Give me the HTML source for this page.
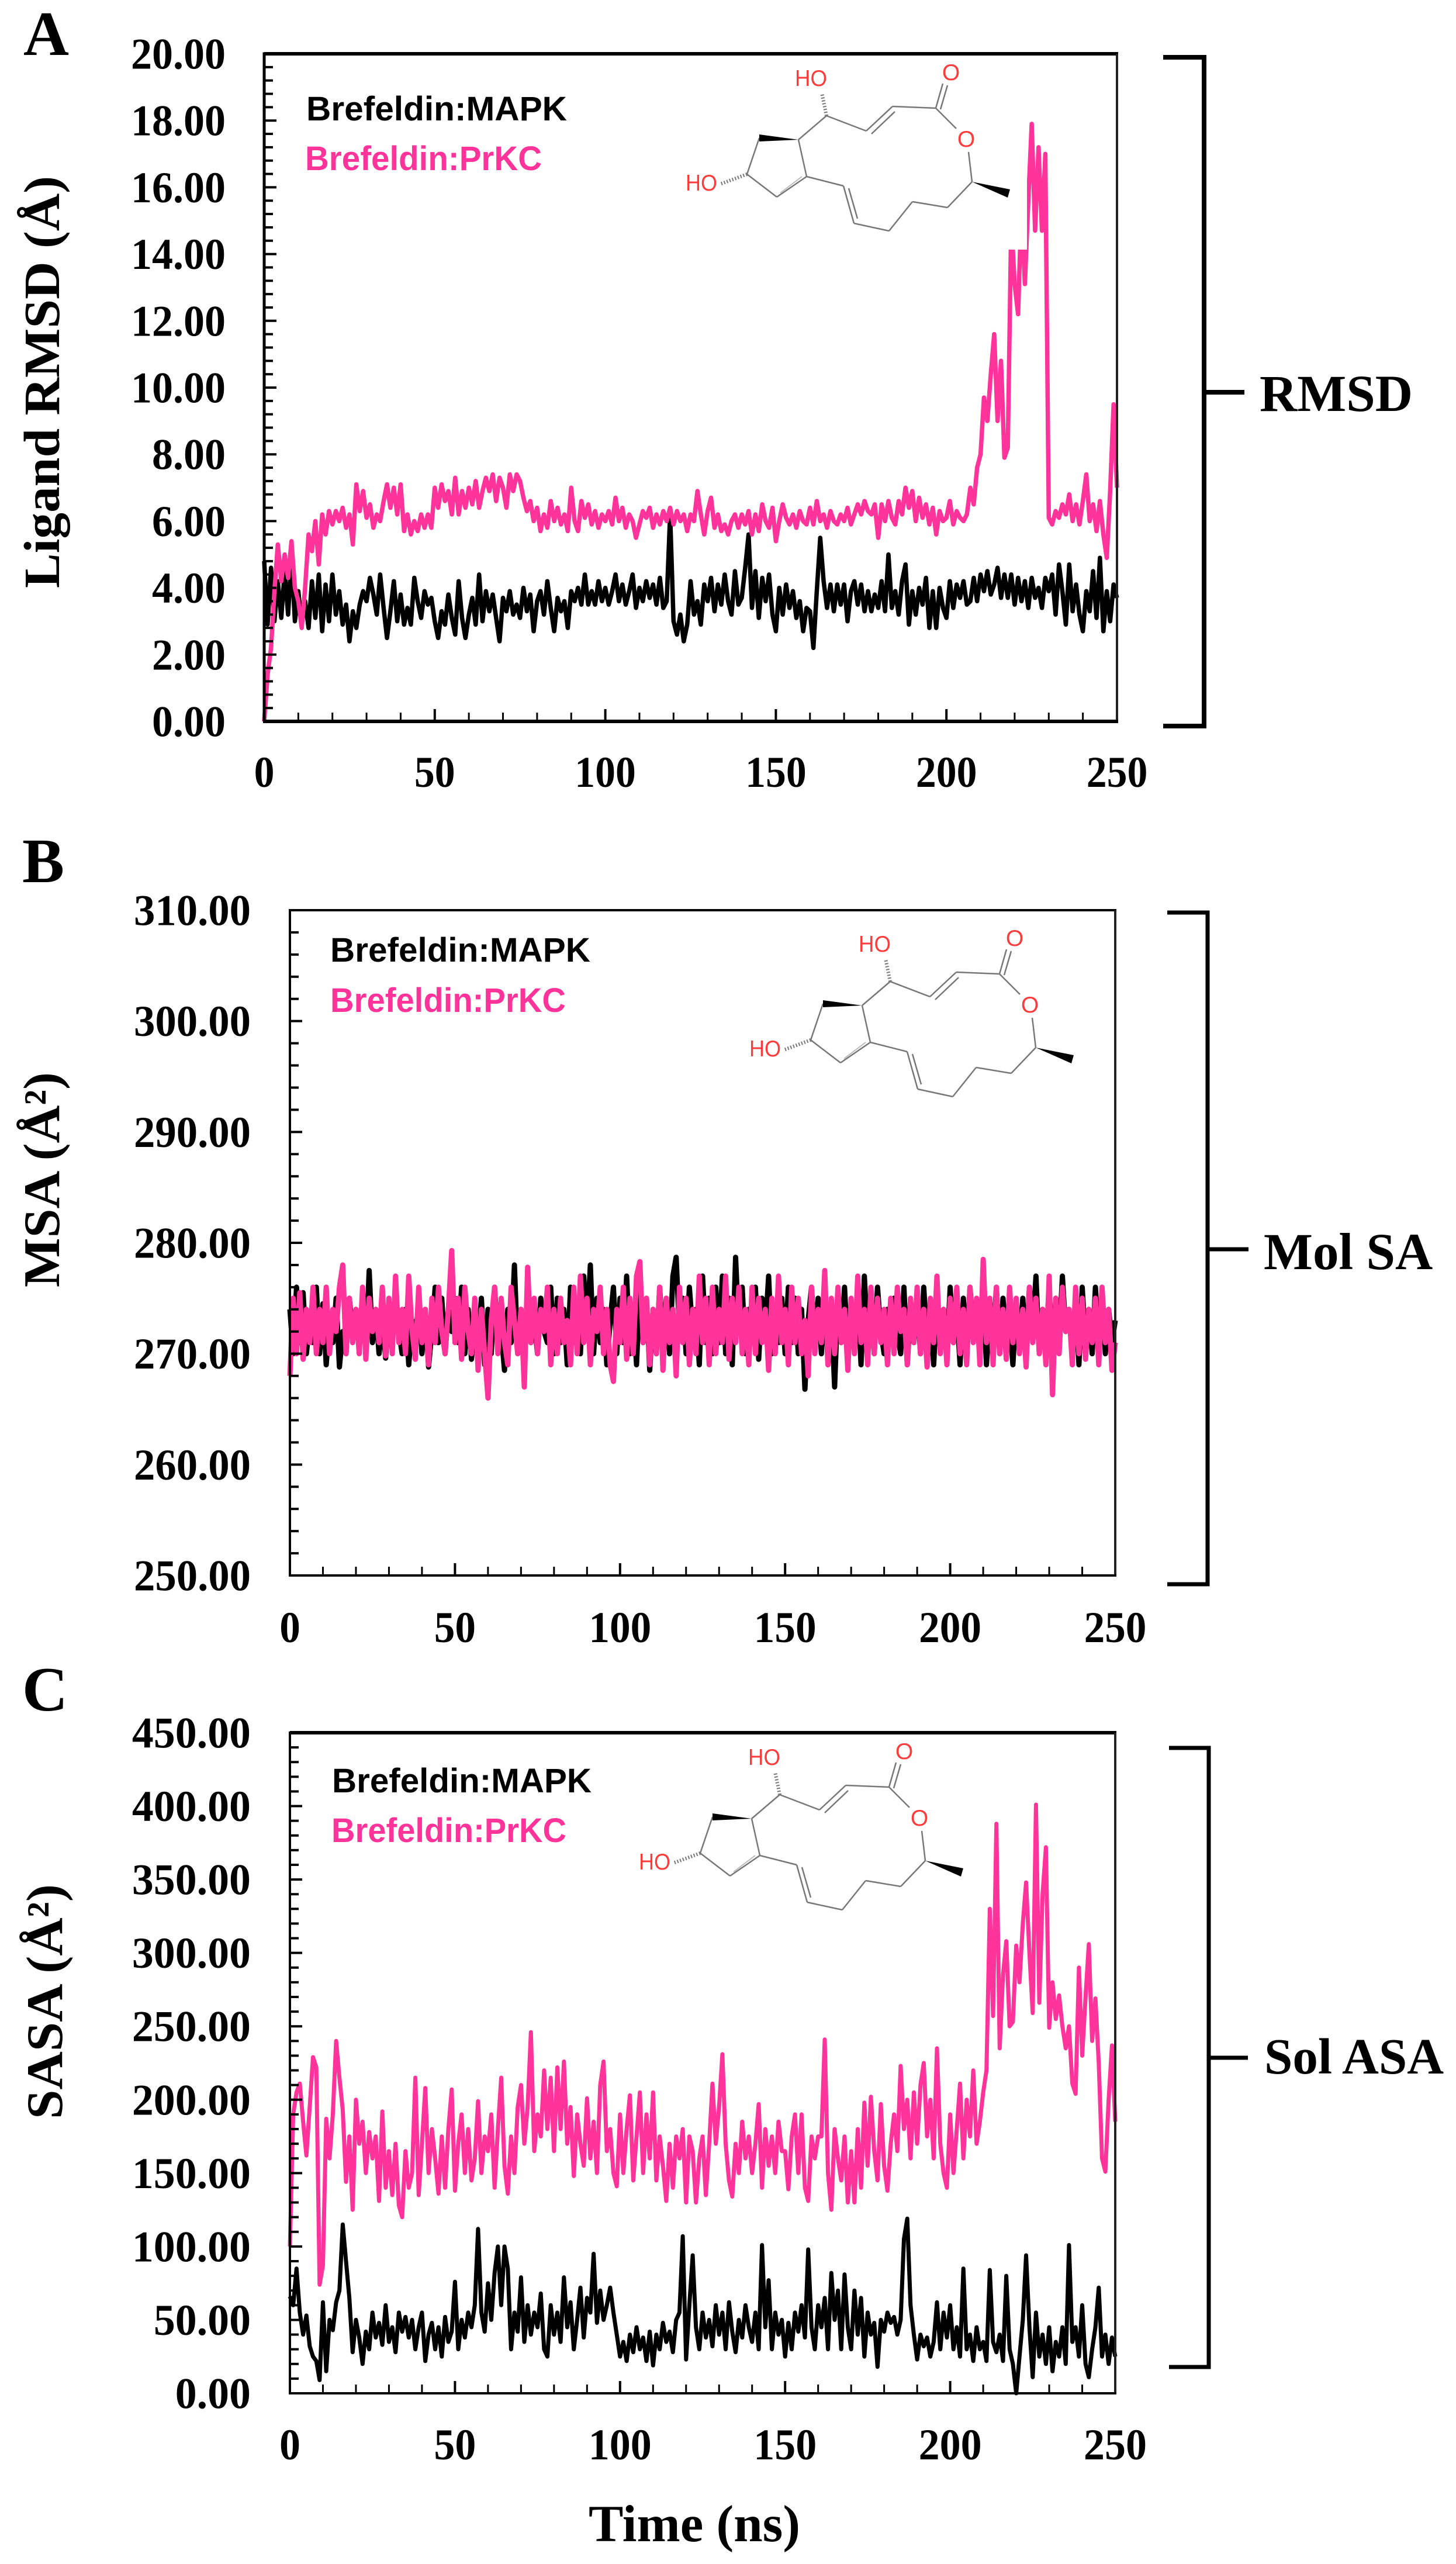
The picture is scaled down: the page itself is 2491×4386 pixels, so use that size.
<!DOCTYPE html>
<html lang="en">
<head>
<meta charset="utf-8">
<title>Brefeldin MD trajectory analysis</title>
<style>
html,body{margin:0;padding:0;background:#fff;}
svg{display:block;}
.serif{font-family:"Liberation Serif",serif;font-weight:700;fill:#000;}
.sans{font-family:"Liberation Sans",sans-serif;font-weight:700;}
</style>
</head>
<body>
<svg id="figure" xmlns="http://www.w3.org/2000/svg" width="2491" height="4386" viewBox="0 0 2491 4386">
  <rect x="0" y="0" width="2491" height="4386" fill="#fff"/>
  <g id="panels"></g>

  <text class="serif" x="40" y="94" font-size="108">A</text>
  <text class="serif" x="38" y="1509" font-size="108">B</text>
  <text class="serif" x="38" y="2926" font-size="108">C</text>

  <text class="serif" transform="translate(101,1006) rotate(-90)" font-size="87" textLength="705" lengthAdjust="spacingAndGlyphs">Ligand RMSD (Å)</text>
  <text class="serif" transform="translate(101,2202) rotate(-90)" font-size="88" textLength="368" lengthAdjust="spacingAndGlyphs">MSA (Å²)</text>
  <text class="serif" transform="translate(106,3625) rotate(-90)" font-size="88" textLength="402" lengthAdjust="spacingAndGlyphs">SASA (Å²)</text>
  <text class="serif" x="1007" y="4347" font-size="88.6" textLength="362" lengthAdjust="spacingAndGlyphs">Time (ns)</text>

  <text class="sans" fill="#000" x="524" y="206" font-size="58" textLength="446" lengthAdjust="spacingAndGlyphs">Brefeldin:MAPK</text>
  <text class="sans" fill="#ff3399" x="522" y="291" font-size="58" textLength="405" lengthAdjust="spacingAndGlyphs">Brefeldin:PrKC</text>
  <text class="sans" fill="#000" x="565" y="1645" font-size="58" textLength="445" lengthAdjust="spacingAndGlyphs">Brefeldin:MAPK</text>
  <text class="sans" fill="#ff3399" x="565" y="1731" font-size="58" textLength="403" lengthAdjust="spacingAndGlyphs">Brefeldin:PrKC</text>
  <text class="sans" fill="#000" x="568" y="3066" font-size="58" textLength="444" lengthAdjust="spacingAndGlyphs">Brefeldin:MAPK</text>
  <text class="sans" fill="#ff3399" x="567" y="3151" font-size="58" textLength="402" lengthAdjust="spacingAndGlyphs">Brefeldin:PrKC</text>

  <path d="M1990 98H2060V1242H1990M2060 671H2129" fill="none" stroke="#000" stroke-width="8"/>
  <path d="M1997 1561H2066V2710H1997M2066 2137H2136" fill="none" stroke="#000" stroke-width="7"/>
  <path d="M2000 2990H2068V4049H2000M2068 3520H2135" fill="none" stroke="#000" stroke-width="7"/>
  <text class="serif" x="2155" y="703" font-size="89">RMSD</text>
  <text class="serif" x="2162" y="2171" font-size="89">Mol SA</text>
  <text class="serif" x="2163" y="3547" font-size="87">Sol ASA</text>
</svg>

<script>
const timeStep = 1;
const timeTickLabels = ['0','50','100','150','200','250'];
const rmsdTickLabels = ['0.00','2.00','4.00','6.00','8.00','10.00','12.00','14.00','16.00','18.00','20.00'];
const msaTickLabels = ['250.00','260.00','270.00','280.00','290.00','300.00','310.00'];
const sasaTickLabels = ['0.00','50.00','100.00','150.00','200.00','250.00','300.00','350.00','400.00','450.00'];

const rmsdMapk = [
4.8,2.9,4.6,3.0,4.2,3.1,4.5,3.2,4.9,3.0,
3.9,2.9,3.6,2.8,4.2,3.1,4.4,2.7,4.1,3.0,
4.4,3.2,3.9,2.9,3.5,2.4,3.3,2.8,3.5,3.9,
3.6,4.3,3.8,3.2,4.4,3.4,2.5,3.3,4.2,3.0,
3.8,2.9,3.4,2.9,4.3,3.6,3.1,3.9,3.5,3.7,
3.0,2.5,3.3,2.9,3.8,3.1,2.6,4.2,3.1,2.5,
3.2,3.7,2.9,4.4,3.0,3.9,3.3,3.8,3.1,2.4,
3.7,3.3,3.9,3.2,3.5,3.1,4.0,3.3,3.8,2.7,
3.6,3.9,3.2,4.2,3.4,2.7,3.7,3.3,3.6,2.8,
3.9,3.6,4.0,3.5,4.4,3.5,3.9,3.5,4.2,3.6,
4.0,3.5,3.9,4.4,3.6,4.1,3.5,3.9,4.4,3.4,
4.0,3.6,4.2,3.7,4.1,3.5,4.3,3.4,3.6,6.2,
3.0,2.6,3.2,2.4,2.9,4.2,3.2,3.6,2.9,4.1,
3.6,4.3,3.3,4.1,3.5,4.4,3.6,3.2,4.5,3.5,
3.7,4.6,5.6,3.4,4.5,3.1,4.3,3.6,4.4,3.2,
2.7,4.0,3.2,4.1,3.4,3.9,3.1,3.6,2.7,3.4,
3.3,2.2,3.9,5.5,4.2,3.4,4.1,3.3,4.1,3.5,
4.1,3.0,3.9,4.2,3.5,4.1,3.3,3.9,3.3,3.8,
3.4,4.2,3.3,5.0,3.4,3.9,3.2,4.2,4.7,2.9,
3.9,3.2,4.0,3.5,4.3,2.8,3.9,2.8,4.0,3.4,
3.1,4.2,3.4,4.1,3.7,4.2,3.5,3.6,4.3,3.6,
4.4,3.9,4.5,3.8,4.1,4.6,3.7,4.4,3.7,4.4,
3.5,4.3,3.6,4.2,3.4,4.3,3.7,4.0,3.4,4.3,
3.9,4.4,3.2,4.7,3.9,2.9,4.7,3.3,4.1,3.2,
2.7,3.9,3.3,4.5,3.1,4.9,2.7,3.9,3.0,4.1,
3.7];

const rmsdPrkc = [
0,1.4,2.2,3.9,5.3,4.2,5.0,4.3,5.4,4.0,
3.6,2.8,4.0,5.6,5.1,6.0,4.7,6.2,5.6,6.3,
5.9,6.3,6.0,6.4,5.8,6.2,5.3,7.1,6.3,6.9,
6.1,6.5,5.8,6.2,6.0,6.6,7.1,6.4,7.0,6.2,
7.1,5.7,6.2,5.6,6.0,5.7,6.2,5.8,6.2,5.8,
7.0,6.4,7.1,6.6,6.9,6.2,7.3,6.2,6.9,6.4,
7.0,6.5,7.2,6.4,6.9,7.3,6.9,7.4,6.6,7.3,
7.0,6.4,7.4,6.9,7.4,7.2,6.7,6.3,6.6,6.0,
6.4,5.7,6.2,5.8,6.6,6.0,6.4,5.9,6.2,5.7,
7.0,6.0,5.7,6.6,6.1,6.5,5.9,6.3,5.8,6.2,
6.0,6.3,5.9,6.7,6.0,6.4,5.8,6.2,6.0,5.5,
5.9,6.3,6.1,6.4,5.8,6.2,5.9,6.3,6.0,6.4,
5.9,6.3,6.0,6.2,5.7,6.2,6.0,6.9,6.2,5.6,
6.3,6.7,5.8,6.2,5.7,5.9,5.6,6.0,6.2,5.8,
6.2,5.9,6.3,5.6,6.2,5.7,6.5,6.0,5.8,6.4,
5.4,6.0,6.5,6.1,5.9,6.2,5.8,6.3,6.0,5.9,
6.4,5.9,6.6,6.0,6.2,5.8,6.3,6.0,5.9,6.2,
6.0,6.4,5.9,6.2,6.5,6.2,6.6,6.3,6.2,6.5,
5.5,6.5,6.0,6.6,6.1,5.9,6.6,6.2,7.0,6.4,
6.9,6.0,6.7,6.1,6.5,5.9,6.4,5.6,6.3,6.0,
6.1,6.6,5.9,6.3,6.1,6.0,6.2,7.0,6.5,7.6,
8.0,9.7,9.0,10.4,11.6,9.0,10.8,7.9,8.2,15.0,
13.1,12.2,15.5,13.1,15.6,17.9,14.7,17.2,14.7,17.0,
6.1,5.9,6.3,6.1,6.5,6.2,6.8,6.0,6.5,5.9,
6.6,7.4,6.0,6.5,5.7,6.6,5.6,4.9,6.9,9.5,
7.0];

const msaMapk = [
274,270,276,271,275.5,270,273,271,276,270,
274.5,269,273,271,275,268.8,272,270,275,272,
274,271,275,270,277.5,271,274,270,273,269.6,
274,271,275,272,270,274,269,273,271,275,
270,274,268.8,272,276,271,275,270,274,272,
275,271,276,270,274,269.5,273,271,275,269,
274,270,276,271,272,268.5,274,271,278,270,
274,269.5,276,271,273,270,275,272,271,276,
270,275,271,274,269,276,271,274,270,277,
272,278,270,275,271,274,269,273,276,270,
275,271,277,270,274,269,276,271,275,268.5,
274,270,276,271,275,270,277,278.7,272,275,
270,276,272,274,269,277,271,275,270,276,
271,277,270,275,269,278.7,272,276,270,274,
271,276,269.5,275,272,277,270,274,271,275,
270,276,271,275,270,274,266.8,273,276,271,
275,270,276,269,274,267,275,271,276,270,
274,271,275,269,277,271,274,270,276,272,
270,274,271,275,272,270,276,269,274,271,
275,270,276,271,273,269,275,272,274,270,
276,271,274,269,275,270,276,272,274,270,
275,269,274,271,276,270,275,271,273,269,
274,271,275,270,276,272,277,270,274,271,
276,269.5,275,271,277,272,274,270,275,269,
276,271,274,270,276,271,275,270,274,271,
273];

const msaPrkc = [
268,275,270,275.5,269.5,274,271,276,270,274,
271,276,270,274,272,276,278,270,275,271,
274,270,276,269.5,275,272,274,271,276,269.8,
275,270,277,271,274,270,277,272,269.5,276,
271,274,269,275,271,276,272,270,274,279.3,
271,275,269.5,276,272,270,275,268.5,274,270,
266,273,276,270,275,271,269,276,273,270,
274,267,277.8,271,275,270,274,272,276,269,
274,270,275,271,273,269,276,270,277,271,
275,269,274,272,276,270,274,269,267.5,274,
271,276,269.5,275,270,277,278.3,271,275,269,
274,270,276,268.5,275,271,274,268,276,271,
275,269,274,270,277,271,275,269,276,270,
274,271,277,269.5,275,271,276,270,274,269,
276,270,275,271,274,268.5,275,270,277,271,
274,269,276,271,275,270,273,268,276,270,
274,271,277.5,269,275,270,276,271,274,268.5,
275,270,277,271,274,269,276,270,275,271,
274,269,275,270,276,272,274,269,275,271,
276,270,274,268.8,275,271,277,270,274,269,
275,271,276,270,274,269,276,271,275,269,
278.5,271,275,269,276,270,274,269.5,276,271,
275,270,274,268.8,276,271,275,270,274,269,
277,266.3,275,270,276,272,274,269,276,270,
275,269.5,274,271,275,269,276,271,274,268.5,
271];

const sasaMapk = [
66,60,85,55,40,53,32,25,22,9,
62,15,50,43,62,70,115,90,65,28,
50,38,20,42,30,55,38,48,33,60,
35,45,28,55,42,52,38,50,30,45,
55,22,40,48,30,45,25,52,35,42,
76,30,50,38,55,45,60,112,55,42,
75,50,82,100,60,100,85,30,55,42,
79,35,60,40,55,45,68,30,25,60,
40,55,35,79,45,62,30,50,72,38,
65,55,95,48,70,50,60,72,55,40,
25,35,22,40,28,45,30,38,22,42,
19,40,30,48,35,42,28,50,55,107,
23,60,94,45,30,55,38,50,32,60,
40,55,30,62,42,28,50,38,60,45,
35,55,30,101,45,77,30,55,40,50,
25,48,30,55,42,60,38,98,45,30,
60,45,65,30,82,50,70,30,81,45,
30,70,40,65,25,55,40,48,18,50,
42,55,48,52,40,50,105,119,60,40,
23,40,32,38,25,35,62,30,55,38,
60,30,45,25,85,30,40,22,45,30,
35,22,84,35,28,40,22,80,30,20,
0,25,50,94,45,11,55,25,40,20,
45,15,35,25,45,20,101,35,45,25,
60,20,11,30,45,72,25,40,20,38,
25];

const sasaPrkc = [
100,190,205,211,185,162,195,229,222,74,
87,187,160,190,240,215,193,144,175,125,
200,170,185,150,178,160,175,131,192,140,
165,135,170,128,120,165,140,150,215,135,
170,208,150,180,160,136,175,140,180,207,
138,170,190,150,180,145,160,199,150,175,
165,190,140,180,215,155,136,175,150,195,
210,170,195,246,165,190,175,220,180,215,
165,222,180,226,170,195,148,190,170,155,
201,160,185,150,210,226,165,180,150,141,
190,150,180,203,145,175,205,150,190,160,
205,145,175,155,131,170,140,175,160,180,
130,175,165,130,160,175,135,170,211,170,
195,231,170,145,134,170,150,185,160,175,
150,170,197,140,180,155,175,150,185,165,
165,139,175,190,150,190,140,131,175,160,
175,175,241,150,125,180,160,145,175,130,
165,130,180,140,198,155,202,165,145,197,
155,138,170,190,165,223,180,200,160,205,
170,210,225,175,200,160,235,170,150,140,
190,150,180,211,160,200,175,220,170,185,
205,220,330,257,388,235,285,308,250,253,
305,280,320,348,300,259,401,266,340,372,
249,280,255,271,250,235,250,211,204,290,
230,270,306,240,269,225,160,151,200,237,
185];

const NS = 'http://www.w3.org/2000/svg';
const panelsRoot = document.getElementById('panels');

function make(tag, attrs, parent) {
  const el = document.createElementNS(NS, tag);
  for (const k in attrs) el.setAttribute(k, attrs[k]);
  parent.appendChild(el);
  return el;
}
function linearScale(dMin, dMax, pMin, pMax) {
  return function (v) { return pMin + (v - dMin) / (dMax - dMin) * (pMax - pMin); };
}

function drawMolecule(parent, dx, dy) {
  const g = make('g', { transform: 'translate(' + dx + ',' + dy + ')' }, parent);
  
  
  const bonds = make('path', {
    d: 'M1414 198L1366 239M1414 198L1482 224M1527 182L1601 185M1601 185L1636 220M1657 260L1663 311M1663 311L1621 355M1621 355L1561 345M1561 345L1521 395M1521 395L1461 382M1443 318L1380 302M1380 302L1366 239M1380 302L1329 337M1329 337L1278 298M1278 298L1299 236M1482 224L1527 182M1491 229L1531 191M1601 185L1613 143M1609 187L1621 146M1443 318L1461 382M1452 322L1467 374',
    fill: 'none', stroke: '#777', 'stroke-width': 2.5
  }, g);
  
  
  const ringInner = make('path', {
    d: 'M1372 302L1335 330', fill: 'none', stroke: '#bbb', 'stroke-width': 2
  }, g);
  
  
  const wedgeRing = make('polygon', { points: '1366,239 1299,230 1299,242', fill: '#000' }, g);
  
  
  const wedgeMethyl = make('polygon', { points: '1663,311 1728,324 1724,338', fill: '#000' }, g);
  
  
  const hashed = make('path', {
    d: 'M1414 198L1406 159M1278 298L1232 315', fill: 'none', stroke: '#777', 'stroke-width': 6, 'stroke-dasharray': '2 3'
  }, g);
  
  
  const hoTop = make('text', { x: 1360, y: 147, 'font-family': '"Liberation Sans",sans-serif', 'font-size': 39, fill: '#ff3b3b', textLength: 55, lengthAdjust: 'spacingAndGlyphs' }, g);
  hoTop.textContent = 'HO';
  
  
  const hoLeft = make('text', { x: 1173, y: 326, 'font-family': '"Liberation Sans",sans-serif', 'font-size': 39, fill: '#ff3b3b', textLength: 54, lengthAdjust: 'spacingAndGlyphs' }, g);
  hoLeft.textContent = 'HO';
  
  
  const oTop = make('text', { x: 1627, y: 137, 'text-anchor': 'middle', 'font-family': '"Liberation Sans",sans-serif', 'font-size': 39, fill: '#ff3b3b' }, g);
  oTop.textContent = 'O';
  
  
  const oRing = make('text', { x: 1653, y: 251, 'text-anchor': 'middle', 'font-family': '"Liberation Sans",sans-serif', 'font-size': 39, fill: '#ff3b3b' }, g);
  oRing.textContent = 'O';
  
  
}

function drawPanel(cfg) {
  const g = make('g', {}, panelsRoot);
  
  

  const xTicks = cfg.xLabels.map(parseFloat);
  const yTicks = cfg.yLabels.map(parseFloat);
  const x = linearScale(xTicks[0], xTicks[xTicks.length - 1], cfg.left, cfg.right);
  const y = linearScale(yTicks[0], yTicks[yTicks.length - 1], cfg.bottom, cfg.top);

  const lineMapk = make('polyline', {
    points: cfg.mapk.map(function (v, i) { return x(i * timeStep).toFixed(1) + ',' + y(v).toFixed(1); }).join(' '),
    fill: 'none', stroke: '#000', 'stroke-width': cfg.lineWidth, 'stroke-linejoin': 'round'
  }, g);
  
  

  const linePrkc = make('polyline', {
    points: cfg.prkc.map(function (v, i) { return x(i * timeStep).toFixed(1) + ',' + y(v).toFixed(1); }).join(' '),
    fill: 'none', stroke: '#ff3399', 'stroke-width': cfg.lineWidth, 'stroke-linejoin': 'round'
  }, g);
  
  

  if (cfg.mask) {
    const mask = make('rect', { x: cfg.mask[0], y: cfg.mask[1], width: cfg.mask[2], height: cfg.mask[3], fill: '#fff' }, g);
    
    
  }
  drawMolecule(g, cfg.molDx, cfg.molDy);

  const ticks = make('g', { stroke: '#000' }, g);
  
  

  function yTick(v, len, w) {
    const t = make('line', { x1: cfg.left, x2: cfg.left + len, y1: y(v), y2: y(v), 'stroke-width': w }, ticks);
    
    
  }
  function xTick(v, len, w) {
    const t = make('line', { x1: x(v), x2: x(v), y1: cfg.bottom, y2: cfg.bottom - len, 'stroke-width': w }, ticks);
    
    
  }
  yTicks.forEach(function (v, k) {
    yTick(v, 21, 4);
    if (k < yTicks.length - 1) {
      for (let m = 1; m < 5; m++) yTick(v + (yTicks[k + 1] - v) * m / 5, 15, 4);
    }
  });
  xTicks.forEach(function (v, k) {
    xTick(v, 21, 4);
    if (k < xTicks.length - 1) {
      for (let m = 1; m < 5; m++) xTick(v + (xTicks[k + 1] - v) * m / 5, 15, 3);
    }
  });

  const frame = make('path', {
    d: 'M' + cfg.left + ' ' + cfg.bottom + 'V' + cfg.top + 'M' + (cfg.left - cfg.leftW / 2) + ' ' + cfg.top + 'H' + cfg.right,
    fill: 'none', stroke: '#000', 'stroke-width': cfg.leftW
  }, g);
  
  
  const topEdge = make('line', { x1: cfg.left, x2: cfg.right + 2, y1: cfg.top, y2: cfg.top, stroke: '#000', 'stroke-width': cfg.topW }, g);
  
  
  const rightEdge = make('line', { x1: cfg.right, x2: cfg.right, y1: cfg.top, y2: cfg.bottom + 2, stroke: '#222', 'stroke-width': 4 }, g);
  
  
  const bottomEdge = make('line', { x1: cfg.left - 2, x2: cfg.right + 2, y1: cfg.bottom, y2: cfg.bottom, stroke: '#000', 'stroke-width': cfg.bottomW }, g);
  
  

  cfg.yLabels.forEach(function (label, k) {
    const t = make('text', {
      'class': 'serif', 'text-anchor': 'end', 'font-size': 75,
      transform: 'translate(' + cfg.yLabelX + ',' + (y(yTicks[k]) + 25.5) + ') scale(' + cfg.yScaleX + ',1)'
    }, g);
    t.textContent = label;
    
    
  });
  cfg.xLabels.forEach(function (label, k) {
    const t = make('text', {
      'class': 'serif', 'text-anchor': 'middle', 'font-size': 75,
      transform: 'translate(' + x(xTicks[k]) + ',' + cfg.xLabelY + ') scale(' + cfg.xScaleX + ',1)'
    }, g);
    t.textContent = label;
    
    
  });
}

drawPanel({
  name: 'panel-a-rmsd', mapk: rmsdMapk, prkc: rmsdPrkc, xLabels: timeTickLabels, yLabels: rmsdTickLabels,
  left: 452, right: 1911, top: 92, bottom: 1234, lineWidth: 7.5, leftW: 5, topW: 6, bottomW: 6,
  yLabelX: 386, yScaleX: 0.96, xLabelY: 1346, xScaleX: 0.93,
  molDx: 0, molDy: 0, mask: [1140, 96, 617, 331]
});
drawPanel({
  name: 'panel-b-msa', mapk: msaMapk, prkc: msaPrkc, xLabels: timeTickLabels, yLabels: msaTickLabels,
  left: 496, right: 1908, top: 1557, bottom: 2695, lineWidth: 9, leftW: 4, topW: 4, bottomW: 4,
  yLabelX: 429, yScaleX: 0.97, xLabelY: 2809, xScaleX: 0.95,
  molDx: 109, molDy: 1481
});
drawPanel({
  name: 'panel-c-sasa', mapk: sasaMapk, prkc: sasaPrkc, xLabels: timeTickLabels, yLabels: sasaTickLabels,
  left: 496, right: 1908, top: 2964, bottom: 4094, lineWidth: 7, leftW: 4, topW: 6, bottomW: 4,
  yLabelX: 429, yScaleX: 0.985, xLabelY: 4207, xScaleX: 0.96,
  molDx: -80, molDy: 2872
});
</script>
</body>
</html>
